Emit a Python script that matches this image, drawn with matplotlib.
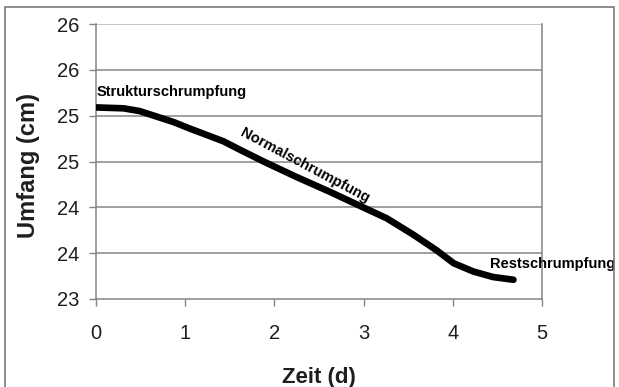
import matplotlib
matplotlib.use("Agg")
import matplotlib.pyplot as plt
from matplotlib.patches import Rectangle

plt.rcParams['font.family'] = ['Liberation Sans', 'DejaVu Sans']

# Data
zeit = [0.0, 0.31, 0.49, 0.68, 0.87, 1.05, 1.24, 1.43, 1.61, 1.90, 2.25,
        2.62, 2.95, 3.26, 3.56, 3.82, 4.01, 4.23, 4.45, 4.68]
umfang = [25.09, 25.08, 25.05, 24.99, 24.93, 24.86, 24.79, 24.72, 24.63, 24.49, 24.33,
          24.17, 24.02, 23.88, 23.70, 23.53, 23.39, 23.30, 23.24, 23.21]

y_ticks = [23.0, 23.5, 24.0, 24.5, 25.0, 25.5, 26.0]
y_tick_labels = ["23", "24", "24", "25", "25", "26", "26"]
x_ticks = [0, 1, 2, 3, 4, 5]
x_tick_labels = ["0", "1", "2", "3", "4", "5"]

phase_labels = ["Strukturschrumpfung", "Normalschrumpfung", "Restschrumpfung"]

fig = plt.figure(figsize=(6.19, 3.87), dpi=100)
fig.patch.set_facecolor("white")
fig.patches.append(Rectangle((5/619, -0.05), (614-5)/619, 1 - 7/387 + 0.05,
                             transform=fig.transFigure, fill=False,
                             edgecolor="#7a7a7a", linewidth=1.2))

ax = fig.add_axes([96/619, 1-299/387, (542-96)/619, (299-24)/387])
ax.set_xlim(0, 5)
ax.set_ylim(23, 26)

for y in y_ticks[1:]:
    ax.axhline(y, color="#b5b5b5" if y == 26.0 else "#858585", linewidth=1.1, zorder=1)

ax.plot(zeit, umfang, color="black", linewidth=4.8, solid_capstyle="round",
        solid_joinstyle="round", zorder=3)

ax.set_xticks(x_ticks)
ax.set_xticklabels(x_tick_labels)
ax.set_yticks(y_ticks)
ax.set_yticklabels(y_tick_labels)
ax.tick_params(axis="both", colors="#858585", labelcolor="#1e1e1e", labelsize=14.5,
               length=5, width=1.0, direction="out")
ax.tick_params(axis="x", pad=13)
ax.tick_params(axis="y", pad=7)

for s in ["left", "bottom", "right"]:
    ax.spines[s].set_color("#858585")
    ax.spines[s].set_linewidth(1.1)
ax.spines["top"].set_visible(False)

ax.set_xlabel("Zeit (d)", fontsize=16, fontweight="bold", color="#1e1e1e", va="center")
ax.xaxis.set_label_coords(0.5, (299-378)/275)
ax.set_ylabel("Umfang (cm)", fontsize=17, fontweight="bold", color="#1e1e1e", va="center")
ax.yaxis.set_label_coords((28-96)/446, (299-165)/275)

ax.text(0.01, 25.257, phase_labels[0], fontsize=10.5, fontweight="bold",
        ha="left", va="center", color="black", zorder=4)
ax.text(2.34, 24.45, phase_labels[1], fontsize=10.5, fontweight="bold",
        ha="center", va="center", rotation=-28, rotation_mode="anchor",
        color="black", zorder=4)
ax.text(4.417, 23.38, phase_labels[2], fontsize=10.5, fontweight="bold",
        ha="left", va="center", color="black", zorder=4, clip_on=False)

fig.savefig("out.png", dpi=100, facecolor="white")
